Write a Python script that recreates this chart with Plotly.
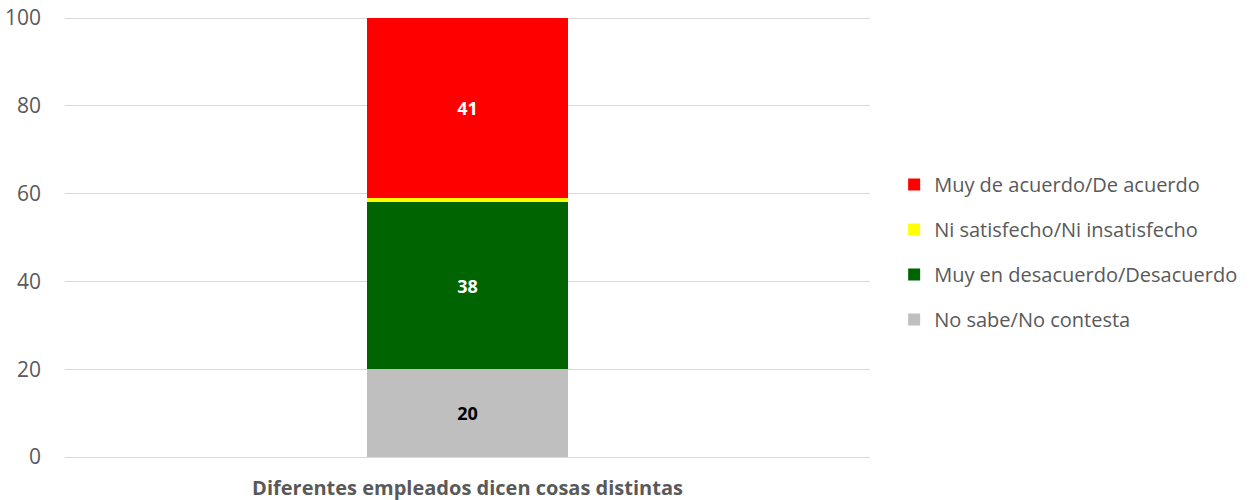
import plotly.graph_objects as go

categories = ["Diferentes empleados dicen cosas distintas"]
series_names = ["No sabe/No contesta", "Muy en desacuerdo/Desacuerdo",
                "Ni satisfecho/Ni insatisfecho", "Muy de acuerdo/De acuerdo"]
series_values = [[20], [38], [1], [41]]
series_colors = ["#bfbfbf", "#006400", "#ffff00", "#ff0000"]
label_colors = ["black", "white", "white", "white"]
show_labels = [True, True, False, True]
legend_ranks = [4, 3, 2, 1]
y_ticks = [0, 20, 40, 60, 80, 100]

font = "Open Sans, Liberation Sans, sans-serif"

fig = go.Figure()
for name, vals, col, lc, show, rank in zip(series_names, series_values, series_colors,
                                           label_colors, show_labels, legend_ranks):
    fig.add_trace(go.Bar(
        x=categories, y=vals, name=name, marker_color=col, marker_line_width=0,
        width=0.25, legendgroup=name, legendrank=rank,
        text=[str(v) for v in vals] if show else None,
        textposition="inside", insidetextanchor="middle",
        textfont=dict(color=lc, size=18, family=font, weight="bold"),
        hoverinfo="name+y",
    ))

fig.update_layout(
    barmode="stack",
    width=1258, height=500,
    margin=dict(l=65, r=388, t=17, b=43),
    plot_bgcolor="white", paper_bgcolor="white",
    font=dict(family=font, size=20, color="#595959"),
    legend=dict(x=1.03, y=0.466, yanchor="middle", xanchor="left",
                traceorder="grouped", tracegroupgap=16,
                font=dict(size=20, color="#595959")),
    yaxis=dict(range=[0, 100.25], tickvals=y_ticks, showgrid=True,
               gridcolor="#d9d9d9", gridwidth=1, zeroline=False,
               ticks="", ticklabelstandoff=23, automargin=False,
               tickfont=dict(size=21)),
    xaxis=dict(tickfont=dict(size=20, weight="bold", color="#595959"),
               showline=True, linecolor="#d9d9d9", linewidth=1, ticks="",
               ticklabelstandoff=13, automargin=False),
)

# drop the browser's default 8px body margin so the figure sits at 0,0
fig.write_html("out.html", config={"displayModeBar": False},
               post_script="document.body.style.margin='0';")
